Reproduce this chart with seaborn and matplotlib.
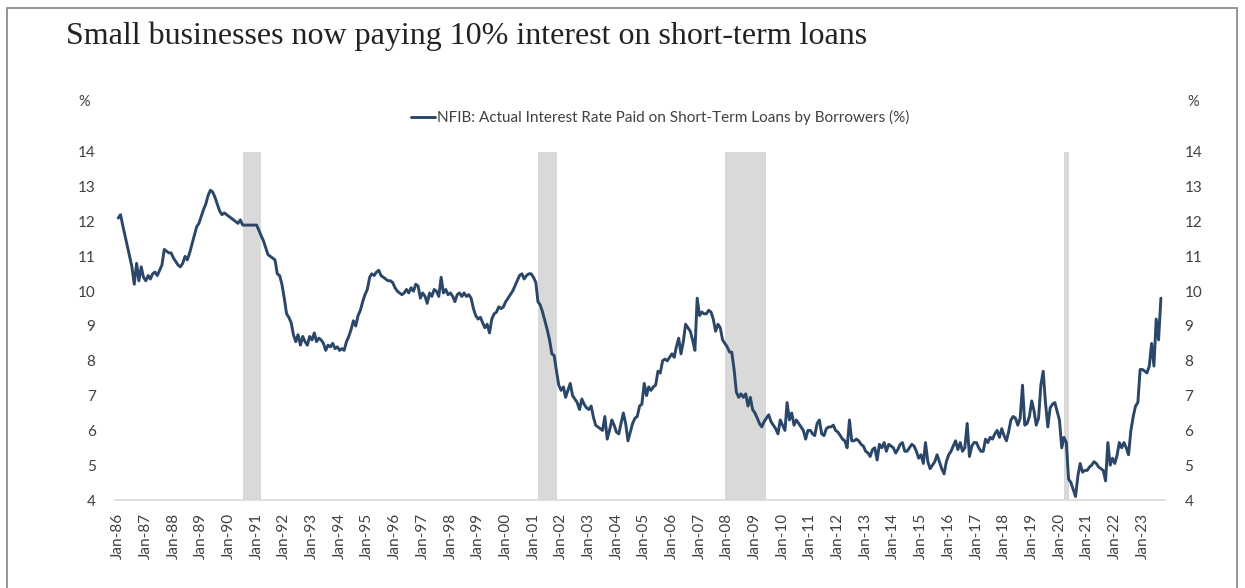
import matplotlib
matplotlib.use("Agg")
import matplotlib.pyplot as plt
import matplotlib.dates as mdates
from matplotlib.patches import Rectangle
import numpy as np
import pandas as pd
import seaborn as sns

# NFIB actual interest rate paid on short-term loans (%), monthly from Jan 1986
rate_1986_1995 = [
    12.1, 12.2, 11.9, 11.6, 11.3, 11.0, 10.7, 10.2, 10.8, 10.3, 10.7, 10.4,
    10.3, 10.45, 10.35, 10.5, 10.55, 10.45, 10.6, 10.75, 11.2, 11.15, 11.1, 11.1,
    10.95, 10.85, 10.75, 10.7, 10.8, 11.0, 10.9, 11.1, 11.35, 11.6, 11.85, 11.95,
    12.15, 12.35, 12.5, 12.75, 12.9, 12.85, 12.7, 12.5, 12.3, 12.2, 12.25, 12.2,
    12.15, 12.1, 12.05, 12.0, 11.95, 12.05, 11.9, 11.9, 11.9, 11.9, 11.9, 11.9,
    11.9, 11.75, 11.6, 11.45, 11.25, 11.05, 11.0, 10.95, 10.9, 10.5, 10.45, 10.2,
    9.8, 9.35, 9.25, 9.1, 8.75, 8.55, 8.75, 8.45, 8.7, 8.55, 8.45, 8.7,
    8.6, 8.8, 8.55, 8.65, 8.6, 8.5, 8.3, 8.45, 8.4, 8.5, 8.35, 8.4,
    8.3, 8.35, 8.3, 8.55, 8.7, 8.9, 9.15, 9.0, 9.3, 9.45, 9.7, 9.9,
    10.05, 10.4, 10.5, 10.45, 10.55, 10.6, 10.45, 10.4, 10.35, 10.3, 10.3, 10.25,
]
rate_1996_2005 = [
    10.1, 10.0, 9.95, 9.9, 9.95, 10.05, 9.95, 10.1, 10.0, 10.2, 10.15, 9.8,
    9.95, 9.85, 9.65, 9.95, 9.85, 10.05, 10.0, 9.85, 10.4, 9.95, 10.05, 9.9,
    9.95, 9.85, 9.7, 9.9, 9.95, 9.85, 9.95, 9.85, 9.9, 9.8, 9.5, 9.3,
    9.2, 9.25, 9.1, 8.95, 9.05, 8.8, 9.2, 9.35, 9.4, 9.55, 9.5, 9.55,
    9.7, 9.8, 9.9, 10.0, 10.15, 10.3, 10.45, 10.5, 10.35, 10.45, 10.5, 10.5,
    10.4, 10.25, 9.7, 9.6, 9.4, 9.15, 8.9, 8.6, 8.2, 8.15, 7.7, 7.3,
    7.15, 7.25, 6.95, 7.15, 7.35, 7.0, 6.9, 6.8, 6.6, 6.9, 6.75, 6.65,
    6.6, 6.7, 6.4, 6.15, 6.1, 6.05, 6.0, 6.4, 5.75, 6.0, 6.3, 6.15,
    5.95, 5.9, 6.2, 6.5, 6.2, 5.7, 5.95, 6.2, 6.35, 6.4, 6.7, 6.75,
    7.35, 7.0, 7.25, 7.15, 7.25, 7.3, 7.7, 7.65, 8.0, 8.05, 8.0, 8.1,
]
rate_2006_2015 = [
    8.2, 8.1, 8.4, 8.65, 8.2, 8.55, 9.05, 8.95, 8.85, 8.6, 8.3, 9.8,
    9.3, 9.4, 9.35, 9.35, 9.45, 9.4, 9.2, 8.85, 9.05, 8.95, 8.6, 8.5,
    8.4, 8.25, 8.25, 7.75, 7.1, 6.95, 7.05, 6.95, 7.05, 6.7, 6.95, 6.6,
    6.5, 6.35, 6.2, 6.1, 6.25, 6.35, 6.45, 6.25, 6.15, 6.05, 5.9, 6.3,
    6.15, 6.0, 6.8, 6.3, 6.5, 6.15, 6.3, 6.2, 6.1, 6.0, 5.75, 6.0,
    6.0, 5.9, 5.85, 6.2, 6.3, 5.9, 5.85, 6.05, 6.1, 6.1, 6.15, 6.0,
    5.95, 5.85, 5.75, 5.7, 5.5, 6.3, 5.7, 5.7, 5.75, 5.7, 5.6, 5.55,
    5.4, 5.35, 5.25, 5.45, 5.5, 5.15, 5.6, 5.5, 5.65, 5.4, 5.6, 5.55,
    5.5, 5.35, 5.45, 5.6, 5.65, 5.4, 5.4, 5.5, 5.6, 5.55, 5.4, 5.2,
    5.3, 5.05, 5.65, 5.1, 4.9, 5.0, 5.1, 5.3, 5.1, 4.9, 4.75, 5.1,
]
rate_2016_2023 = [
    5.3, 5.4, 5.55, 5.7, 5.45, 5.65, 5.4, 5.5, 6.2, 5.25, 5.55, 5.65,
    5.65, 5.5, 5.4, 5.4, 5.75, 5.65, 5.8, 5.75, 5.9, 6.0, 5.8, 6.05,
    5.85, 5.7, 5.95, 6.3, 6.4, 6.35, 6.15, 6.35, 7.3, 6.15, 6.2, 6.4,
    6.85, 6.55, 6.15, 6.35, 7.3, 7.7, 6.8, 6.1, 6.65, 6.75, 6.8, 6.55,
    6.3, 5.5, 5.8, 5.65, 4.6, 4.5, 4.3, 4.1, 4.7, 5.05, 4.8, 4.85,
    4.85, 4.95, 5.0, 5.1, 5.05, 4.95, 4.9, 4.85, 4.55, 5.65, 5.0, 5.2,
    5.05, 5.3, 5.65, 5.5, 5.65, 5.5, 5.3, 6.0, 6.4, 6.7, 6.8, 7.75,
    7.75, 7.7, 7.65, 7.85, 8.5, 7.85, 9.2, 8.6, 9.8,
]
rates = rate_1986_1995 + rate_1996_2005 + rate_2006_2015 + rate_2016_2023
start_month = "1986-01-01"

# NBER recessions (start, end)
recession_start = ["1990-07-01", "2001-03-01", "2007-12-01", "2020-03-01"]
recession_end = ["1991-03-01", "2001-11-01", "2009-06-01", "2020-05-01"]

series_label = "NFIB: Actual Interest Rate Paid on Short-Term Loans by Borrowers (%)"
title_text = "Small businesses now paying 10% interest on short-term loans"
y_ticks = [4, 5, 6, 7, 8, 9, 10, 11, 12, 13, 14]

df = pd.DataFrame({
    "date": pd.date_range(start_month, periods=len(rates), freq="MS"),
    "rate": rates,
})

sns.set_theme(style="white")
plt.rcParams["font.family"] = ["Lato", "DejaVu Sans"]

W, H = 1245, 588
fig = plt.figure(figsize=(W / 100, H / 100), dpi=100)
fig.patch.set_facecolor("white")
ax = fig.add_axes([115 / W, 1 - 500 / H, 1050 / W, 348 / H])

for s, e in zip(recession_start, recession_end):
    ax.axvspan(pd.Timestamp(s), pd.Timestamp(e), ymin=0, ymax=1,
               color="#d9d9d9", lw=0, zorder=0)

sns.lineplot(data=df, x="date", y="rate", ax=ax, color="#2a4668",
             linewidth=2.1, label=series_label, zorder=3)

ax.set_ylim(4, 14)
ax.set_xlim(pd.Timestamp("1985-11-20"), pd.Timestamp("2023-10-25"))
ax.set_yticks(y_ticks)
ax.set_xlabel("")
ax.set_ylabel("")

ax.xaxis.set_major_locator(mdates.YearLocator(1, month=1, day=1))
ax.xaxis.set_major_formatter(mdates.DateFormatter("%b-%y"))
ax.tick_params(axis="x", rotation=90, labelsize=11, colors="#404040",
               length=0, pad=9)
ax.tick_params(axis="y", labelsize=11, colors="#404040", length=0, pad=14,
               labelleft=True, labelright=True)
for lbl in ax.get_xticklabels():
    lbl.set_ha("center")
    lbl.set_va("top")

for side in ["top", "right", "left"]:
    ax.spines[side].set_visible(False)
ax.spines["bottom"].set_color("#d9d9d9")
ax.spines["bottom"].set_linewidth(1.2)
ax.grid(False)

leg = ax.legend(loc="center", bbox_to_anchor=(0.519, 1.098), frameon=False,
                fontsize=11, handlelength=1.6, handletextpad=0.1,
                labelcolor="#404040")

fig.text(78 / W, 1 - 102 / H, "%", fontsize=10.5, color="#404040",
         ha="left", va="center")
fig.text(1187 / W, 1 - 102 / H, "%", fontsize=10.5, color="#404040",
         ha="left", va="center")

fig.text(66 / W, 1 - 36 / H, title_text, fontsize=23, color="#222222",
         family=["Liberation Serif", "DejaVu Serif"], ha="left", va="center")

# thin frame around the figure
fig.patches.append(Rectangle((7 / W, -0.01), (1237 - 7) / W, 1 - 8 / H + 0.01,
                             transform=fig.transFigure, fill=False,
                             edgecolor="#8c8c8c", linewidth=1.3))

fig.savefig("out.png", dpi=100, facecolor="white")
